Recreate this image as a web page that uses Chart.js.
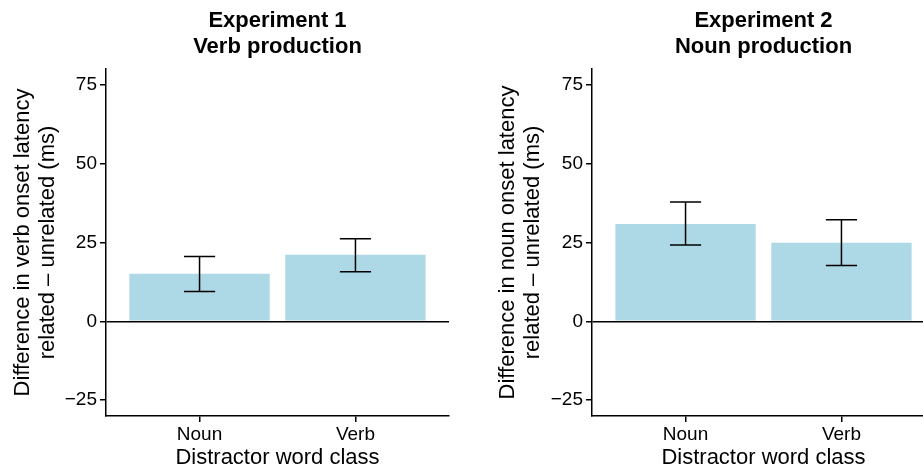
<!DOCTYPE html>
<html>
<head>
<meta charset="utf-8">
<script src="https://cdn.jsdelivr.net/npm/chart.js@4"></script>
<style>
  html, body { margin: 0; padding: 0; background: #fff; overflow: hidden; width: 923px; height: 467px; }
  canvas { position: absolute; top: 0; }
  #chart1 { left: 0; }
  #chart2 { left: 485px; }
</style>
</head>
<body>
<canvas id="chart1" width="460" height="467"></canvas>
<canvas id="chart2" width="461" height="467"></canvas>
<script>
var categories = ['Noun', 'Verb'];
var yTicks = [-25, 0, 25, 50, 75];

// Experiment 1 - verb production
var exp1Mean = [15.1, 21.1];
var exp1Low = [9.5, 15.7];
var exp1High = [20.6, 26.2];

// Experiment 2 - noun production
var exp2Mean = [30.9, 24.9];
var exp2Low = [24.2, 17.7];
var exp2High = [37.8, 32.2];

var font = "'Liberation Sans', Arial, Helvetica, sans-serif";

// draws the error bars from the low/high arrays
var errorBars = {
    id: 'errorBars',
    afterDatasetsDraw: function(chart, args, opts) {
        var x = chart.scales.x, y = chart.scales.y, c = chart.ctx;
        c.save();
        c.strokeStyle = '#000';
        c.lineWidth = 1.5;
        opts.low.forEach(function(lo, i) {
            var xm = x.getPixelForValue(i + 1);
            var xl = x.getPixelForValue(i + 1 - opts.cap);
            var xr = x.getPixelForValue(i + 1 + opts.cap);
            var yl = y.getPixelForValue(lo);
            var yh = y.getPixelForValue(opts.high[i]);
            c.beginPath();
            c.moveTo(xm, yl); c.lineTo(xm, yh);
            c.moveTo(xl, yl); c.lineTo(xr, yl);
            c.moveTo(xl, yh); c.lineTo(xr, yh);
            c.stroke();
        });
        c.restore();
    }
};

function makeChart(id, means, low, high, title, yTitle, yWidth) {
    var ctx = document.getElementById(id).getContext('2d');
    return new Chart(ctx, {
        type: 'bar',
        data: {
            datasets: [{
                data: means.map(function(v, i) { return { x: i + 1, y: v }; }),
                backgroundColor: '#ADD8E6',
                borderWidth: 0,
                categoryPercentage: 1,
                barPercentage: 0.9
            }]
        },
        plugins: [errorBars],
        options: {
            responsive: false,
            animation: false,
            layout: { padding: { top: 0, right: 11, bottom: 0, left: 0 } },
            plugins: {
                legend: { display: false },
                tooltip: { enabled: false },
                errorBars: { low: low, high: high, cap: 0.1 }
            },
            scales: {
                x: {
                    type: 'linear',
                    position: 'bottom',
                    offset: false,
                    min: 0.4,
                    max: 2.6,
                    afterBuildTicks: function(s) {
                        s.ticks = categories.map(function(c, i) { return { value: i + 1 }; });
                    },
                    afterFit: function(s) { s.height = 51; },
                    grid: { offset: false, drawOnChartArea: false, drawTicks: true, tickLength: 6, tickColor: '#000', lineWidth: 1.5 },
                    border: { display: true, color: '#000', width: 1.5 },
                    ticks: {
                        color: '#000',
                        padding: 1,
                        font: { family: font, size: 19 },
                        callback: function(v) { return categories[v - 1]; }
                    },
                    title: {
                        display: true,
                        text: 'Distractor word class',
                        color: '#000',
                        font: { family: font, size: 22, lineHeight: 1 },
                        padding: { top: 0, bottom: -2 }
                    }
                },
                top: {
                    type: 'linear',
                    position: 'top',
                    min: 0,
                    max: 1,
                    afterFit: function(s) { s.height = 69; },
                    grid: { display: false },
                    border: { display: false },
                    ticks: { display: false },
                    title: {
                        display: true,
                        text: title,
                        color: '#000',
                        font: { family: font, size: 22, weight: 'bold', lineHeight: 1.18 },
                        padding: { top: 8, bottom: 0 }
                    }
                },
                y: {
                    min: -30,
                    max: 80,
                    z: 1,
                    afterBuildTicks: function(s) {
                        s.ticks = yTicks.map(function(v) { return { value: v }; });
                    },
                    afterFit: function(s) { s.width = yWidth; },
                    grid: {
                        drawOnChartArea: true,
                        drawTicks: true,
                        tickLength: 6,
                        tickColor: '#000',
                        lineWidth: 1.5,
                        color: function(c) { return c.tick && c.tick.value === 0 ? '#000' : 'rgba(0,0,0,0)'; }
                    },
                    border: { display: true, color: '#000', width: 1.5 },
                    ticks: {
                        color: '#000',
                        padding: 3,
                        font: { family: font, size: 19 },
                        callback: function(v) { return String(v).replace('-', '\u2212'); }
                    },
                    title: {
                        display: true,
                        text: yTitle,
                        color: '#000',
                        font: { family: font, size: 22, lineHeight: 1.15 },
                        padding: { top: 10, bottom: 0 }
                    }
                }
            }
        }
    });
}

makeChart('chart1', exp1Mean, exp1Low, exp1High,
    ['Experiment 1', 'Verb production'],
    ['Difference in verb onset latency', 'related \u2013 unrelated (ms)'], 106);
makeChart('chart2', exp2Mean, exp2Low, exp2High,
    ['Experiment 2', 'Noun production'],
    ['Difference in noun onset latency', 'related \u2013 unrelated (ms)'], 107);
</script>
</body>
</html>
